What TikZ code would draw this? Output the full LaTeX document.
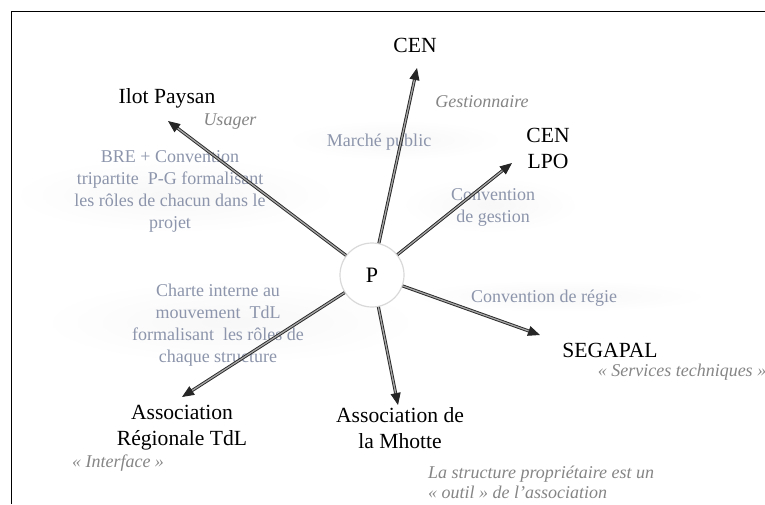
\documentclass[tikz,border=0pt]{standalone}
\usepackage{fontspec}
\setmainfont{Liberation Serif}
\usetikzlibrary{arrows.meta}
\definecolor{lbl}{HTML}{8C95AB}
\definecolor{itl}{HTML}{858585}
\begin{document}
\begin{tikzpicture}[x=1pt,y=-1pt,
  big/.style={font=\fontsize{21.6}{26}\selectfont, align=center, inner sep=0pt, text=black},
  small/.style={font=\fontsize{18}{22}\selectfont, align=center, inner sep=0pt, text=lbl},
  ital/.style={font=\fontsize{18}{21}\selectfont\itshape, inner sep=0pt, text=itl},
  arr/.style={draw=black!85, line width=0.9pt, double=black!35, double distance=1.3pt,
    -{Triangle[length=12pt,width=10pt]}},
  glow/.style={inner color=black!3, outer color=white}
]
\useasboundingbox (0,0) rectangle (765,504);
% faint background glows
\shade[glow] (175,195) ellipse [x radius=165, y radius=38];
\shade[glow] (395,140) ellipse [x radius=110, y radius=20];
\shade[glow] (490,205) ellipse [x radius=90, y radius=28];
\shade[glow] (230,322) ellipse [x radius=190, y radius=42];
\shade[glow] (560,296) ellipse [x radius=150, y radius=16];
% frame
\draw[line width=1pt] (11,504) -- (11,11) -- (765,11);
% centre
\node[circle, draw=black!15, line width=1.2pt, fill=white, minimum size=64pt, inner sep=0pt,
  font=\fontsize{22}{24}\selectfont] (P) at (372,275) {P};
% arrow tip coordinates
\coordinate (tI) at (168,121);
\coordinate (tC) at (417,68);
\coordinate (tL) at (512,163);
\coordinate (tS) at (540,335);
\coordinate (tM) at (398,405);
\coordinate (tR) at (182,397);
% labels
\node[big] (cen) at (415,45) {CEN};
\node[big] (ilot) at (167,98) {Ilot Paysan};
\node[ital] (usager) at (230,122) {Usager};
\node[ital] (gest) at (482,102) {Gestionnaire};
\node[small] (marche) at (379,142) {Marché public};
\node[big] (cenlpo) at (548,148) {CEN\\LPO};
\node[small] (convg) at (493,207) {Convention\\de gestion};
\node[small] (bre) at (170,191) {BRE + Convention\\tripartite\ \ P-G formalisant\\les rôles de chacun dans le\\projet};
\node[small] (charte) at (218,325) {Charte interne au\\mouvement\ \ TdL\\formalisant\ \ les rôles de\\chaque structure};
\node[small] (regie) at (544,298) {Convention de régie};
\node[big] (segapal) at (610,350) {SEGAPAL};
\node[ital] (serv) at (682,372) {« Services techniques »};
\node[big] (assocR) at (182,428) {Association\\Régionale TdL};
\node[ital] (interf) at (118,463) {« Interface »};
\node[big] (mhotte) at (400,428) {Association de\\la Mhotte};
\node[ital, align=left, anchor=west, font=\fontsize{18}{20}\selectfont\itshape] (struct) at (428,482) {La structure propriétaire est un\\« outil » de l'association};
% connectors
\draw[arr] (P) -- (tI);
\draw[arr] (P) -- (tC);
\draw[arr] (P) -- (tL);
\draw[arr] (P) -- (tS);
\draw[arr] (P) -- (tM);
\draw[arr] (P) -- (tR);
\end{tikzpicture}
\end{document}
